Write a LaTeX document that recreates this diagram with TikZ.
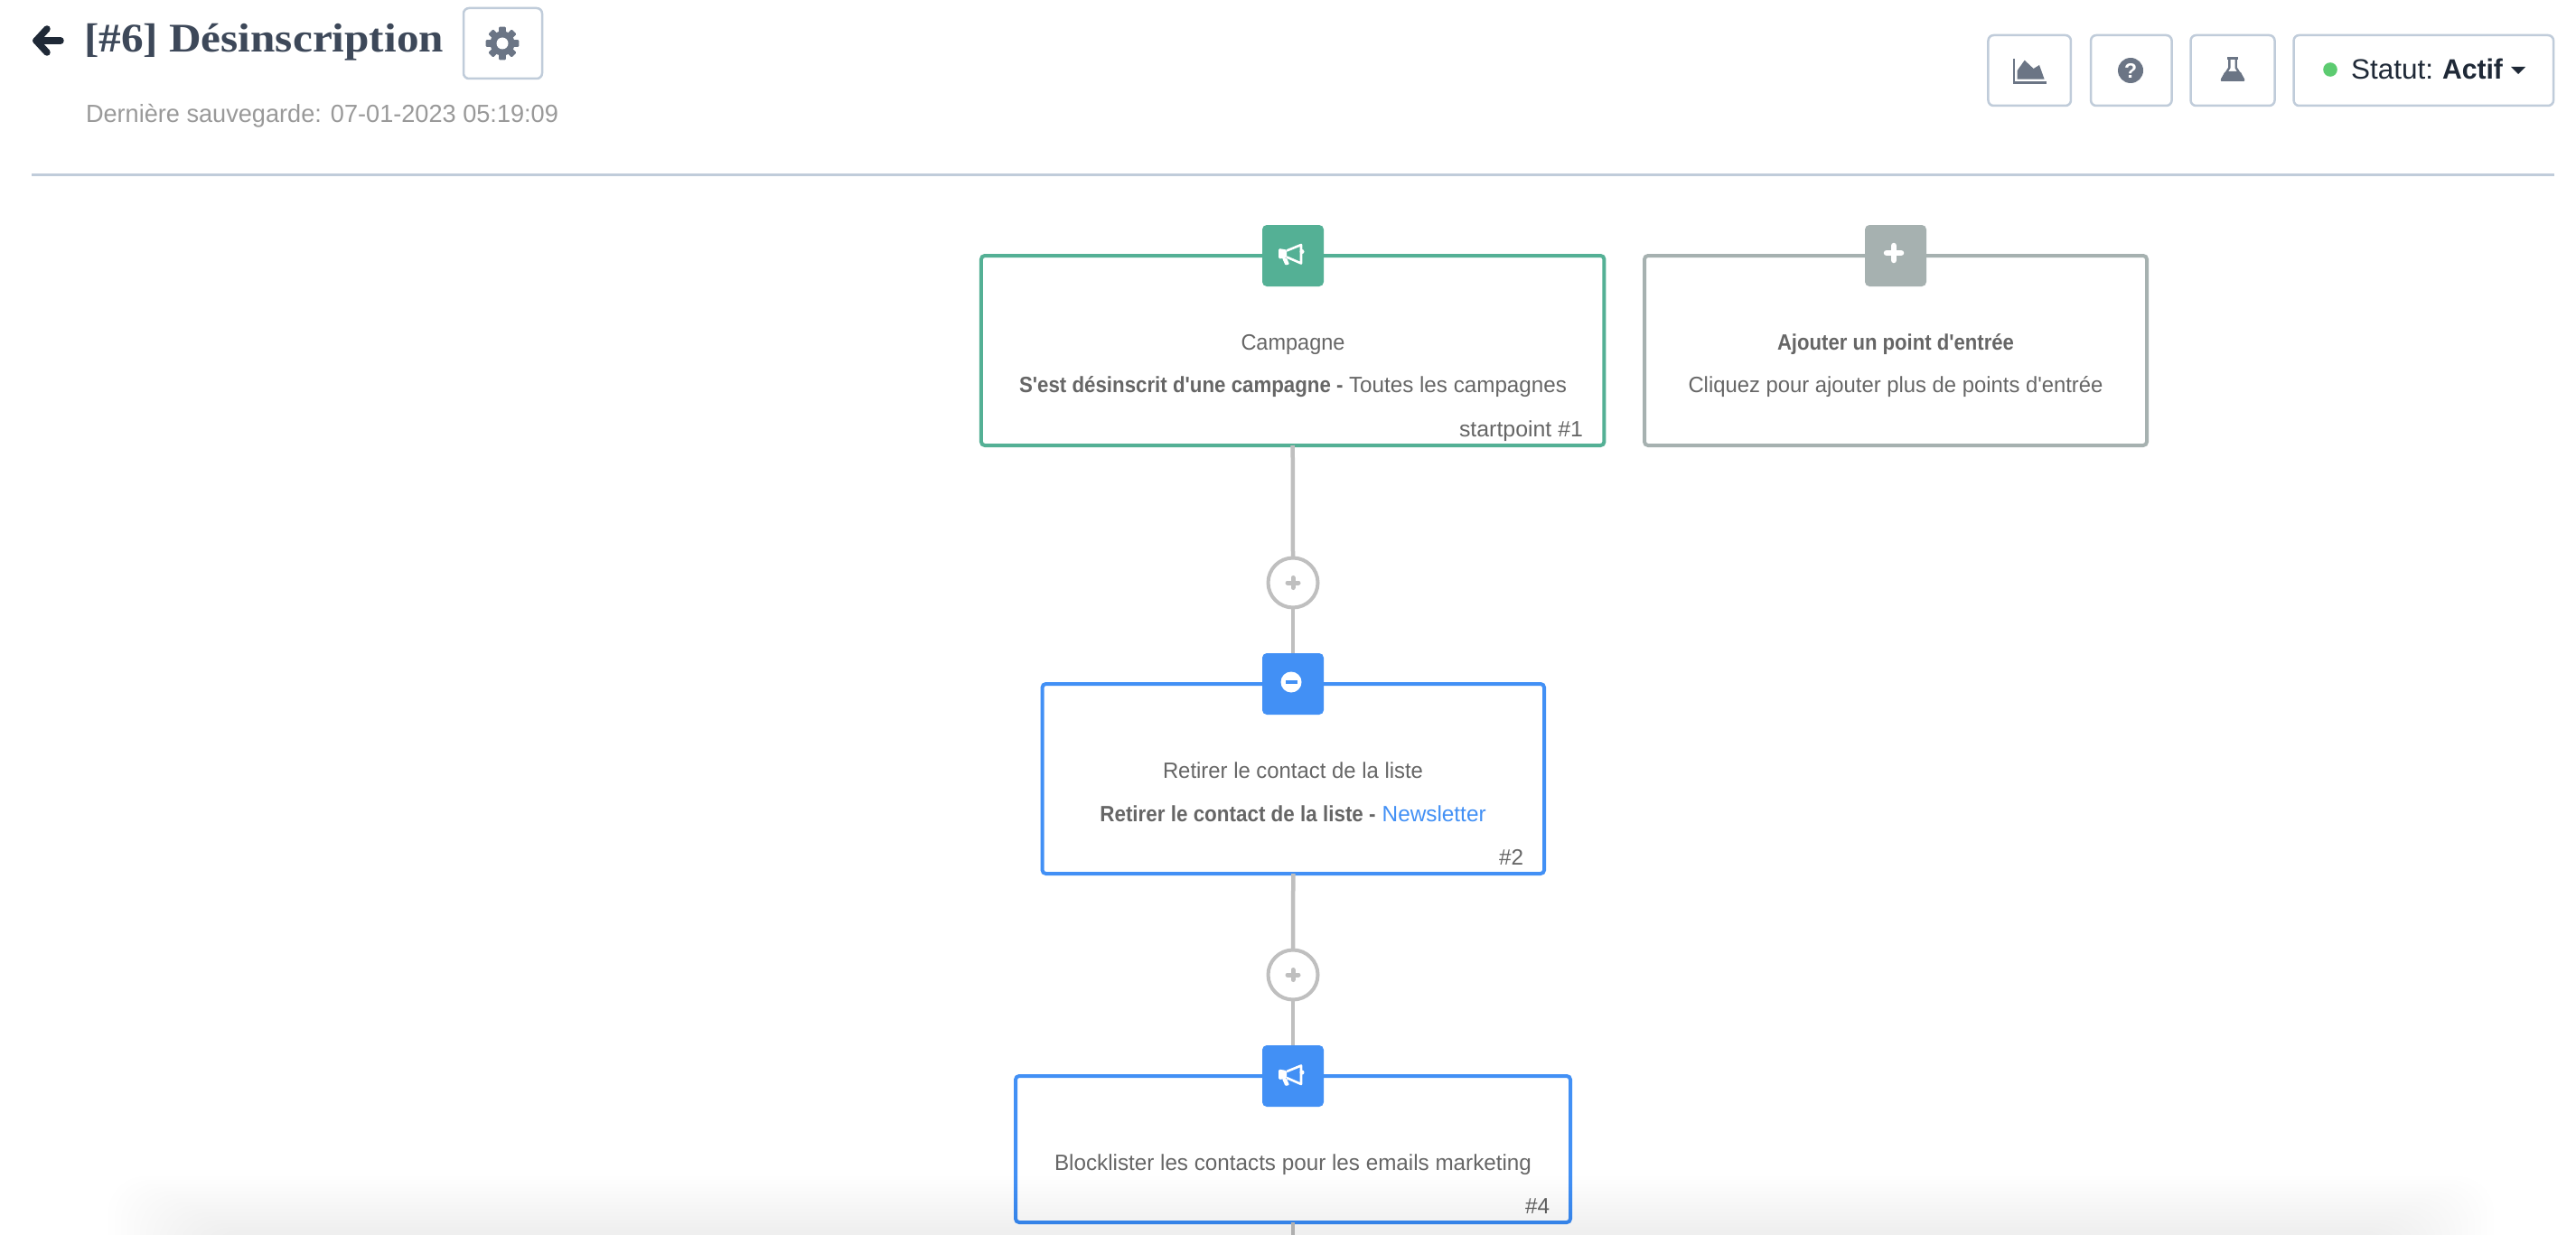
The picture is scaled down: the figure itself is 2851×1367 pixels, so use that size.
\documentclass[tikz,border=0pt]{standalone}
\usepackage{fontspec}
\usepackage{graphicx}
\newfontfamily\uifont{Liberation Sans}
\newfontfamily\headfont{Liberation Serif}
\usetikzlibrary{calc}
\definecolor{cgreen}{HTML}{54B095}
\definecolor{cgrey}{HTML}{A6B1B0}
\definecolor{cblue}{HTML}{4290F5}
\definecolor{ctext}{HTML}{666666}
\definecolor{cline}{HTML}{BFBFBF}
\definecolor{cbtn}{HTML}{C0CCDA}
\definecolor{cicon}{HTML}{6B7585}
\definecolor{cdark}{HTML}{1F2937}
\definecolor{ctitle}{HTML}{3D4859}
\definecolor{cdot}{HTML}{5CCB70}
\newcommand{\fw}[2]{\resizebox{#1pt}{\height}{#2}}
\tikzset{
  flowbox/.style={draw=#1,line width=4pt,fill=white,rounded corners=4pt,rectangle,inner sep=0pt,outer sep=0pt},
  iconbox/.style={fill=#1,rounded corners=5pt,rectangle,minimum width=68pt,minimum height=68pt,inner sep=0pt,outer sep=0pt},
  addnode/.style={circle,draw=cline,line width=4pt,fill=white,minimum size=55pt,inner sep=0pt,outer sep=0pt},
  btn/.style={draw=cbtn,line width=2.5pt,fill=white,rounded corners=6pt,rectangle,inner sep=0pt,outer sep=0pt},
  conn/.style={draw=cline,line width=4.5pt},
  txt/.style={inner sep=0pt,outer sep=0pt,text=ctext,font=\uifont\fontsize{24.5}{28}\selectfont},
}
\newcommand{\megaphone}[3]{%
  \begin{scope}[shift={(#1,#2)}]
    \fill[white,rounded corners=1.5pt] (-14,-6.5) -- (-5,-5) -- (-5,4) -- (-14,5) -- cycle;
    \fill[white,rounded corners=1pt] (-10,4) -- (-5,4) -- (-2,11) -- (-6.5,12) -- cycle;
    \draw[white,line width=2.6pt,line join=round] (-5,-4) -- (11,-10.5) -- (11,10) -- (-5,3);
    \fill[white] (12,-3) circle (2.5);
  \end{scope}}
\newcommand{\smallplus}[6]{%
  \draw[#3,line width=#6pt,line cap=round] ($(#1,#2)+(-#4,0)$) -- ($(#1,#2)+(#4,0)$);
  \draw[#3,line width=#6pt,line cap=round] ($(#1,#2)+(0,-#5)$) -- ($(#1,#2)+(0,#5)$);}
\begin{document}
\begin{tikzpicture}[x=1pt,y=-1pt]
\useasboundingbox[fill=white] (0,0) rectangle (2851,1367);

% header
\draw[cdark,line width=7.5pt,line cap=round,line join=round] (40,45) -- (52,32);
\draw[cdark,line width=7.5pt,line cap=round,line join=round] (40,45) -- (52,58);
\draw[cdark,line width=7.5pt,line cap=round] (40,45) -- (67,45);
\node[txt,anchor=base west,text=ctitle,font=\headfont\bfseries\fontsize{45}{50}\selectfont] (title) at (93,58) {\fw{398}{[\#6] Désinscription}};
\node[txt,anchor=base west,text=black!40,font=\uifont\fontsize{27.5}{32}\selectfont] (saved) at (95,136) {\fw{523}{Dernière sauvegarde: 07-01-2023 05:19:09}};
\node[btn,minimum width=87pt,minimum height=78pt] (gearbtn) at (556.5,48) {};
\begin{scope}[shift={(556,48)}]
  \fill[cicon] (0,0) circle (13.5);
  \foreach \a in {0,45,...,315}{\fill[cicon,rotate=\a,rounded corners=1pt] (-3.8,-18.3) rectangle (3.8,-9);}
  \fill[white] (0,0) circle (6.5);
\end{scope}
\draw[cbtn,line width=2.5pt] (35,193.5) -- (2827,193.5);

\node[btn,minimum width=91.5pt,minimum height=78pt] (chartbtn) at (2246.2,78) {};
\node[btn,minimum width=89.5pt,minimum height=78pt] (helpbtn) at (2358.8,78) {};
\node[btn,minimum width=93pt,minimum height=78pt] (labbtn) at (2471,78) {};
\node[btn,minimum width=287.5pt,minimum height=78pt] (statusbtn) at (2682.3,78) {};
\draw[cicon,line width=2.5pt] (2229,65) -- (2229,91.5) -- (2265,91.5);
\fill[cicon] (2232.7,87.7) -- (2232.7,78) -- (2240.7,66.7) -- (2250.6,76) -- (2257,72) -- (2262.6,87.7) -- cycle;
\fill[cicon] (2358,78) circle (14);
\node[inner sep=0pt,text=white,font=\uifont\bfseries\fontsize{23}{26}\selectfont] (helpmark) at (2358,78) {?};
% flask
\draw[cicon,line width=2.4pt,line join=round] (2465,64.5) -- (2477,64.5);
\draw[cicon,line width=2.4pt,line join=round] (2467.3,65) -- (2467.3,75) -- (2459,88);
\draw[cicon,line width=2.4pt,line join=round] (2474.7,65) -- (2474.7,75) -- (2483,88);
\fill[cicon,rounded corners=1.5pt] (2462.5,79) -- (2479.5,79) -- (2485,90) -- (2457,90) -- cycle;
% status
\fill[cdot] (2579,77) circle (7.8);
\node[txt,anchor=base west,text=cdark,font=\uifont\fontsize{31}{36}\selectfont] (status) at (2602,88) {\fw{91}{Statut:}\hspace{10pt}\fw{67}{\bfseries Actif}};
\fill[cdark] (2779,74) -- (2795,74) -- (2787,82) -- cycle;

% boxes
\node[flowbox=cgreen,minimum width=689.5pt,minimum height=210pt] (start) at (1430.7,388) {};
\node[iconbox=cgreen] (starticon) at (1431,283) {};
\megaphone{1429}{281.5}{}
\node[txt,anchor=base] (startA) at (1431,387) {\fw{115}{Campagne}};
\node[txt,anchor=base] (startB) at (1431,434) {\fw{358.6}{\textbf{S'est désinscrit d'une campagne -}}\hspace{6.4pt}\fw{241}{Toutes les campagnes}};
\node[txt,anchor=base east] (startC) at (1752,483) {\fw{137}{startpoint \#1}};

\node[flowbox=cgrey,minimum width=556pt,minimum height=210pt] (entry) at (2098,388) {};
\node[iconbox=cgrey] (entryicon) at (2098,283) {};
\smallplus{2096}{280}{white}{8}{8}{6.5}
\node[txt,anchor=base] (entryA) at (2098,387) {\fw{262}{\textbf{Ajouter un point d'entrée}}};
\node[txt,anchor=base] (entryB) at (2098,434) {\fw{459}{Cliquez pour ajouter plus de points d'entrée}};

\node[addnode] (add1) at (1431,645) {};
\smallplus{1431}{645}{cline}{6}{5.5}{5}

\node[flowbox=cblue,minimum width=555.5pt,minimum height=210pt] (remove) at (1431.3,862) {};
\node[iconbox=cblue] (removeicon) at (1431,757) {};
\fill[white] (1429,755) circle (11.5);
\fill[cblue] (1422.5,753) rectangle (1435.5,757);
\node[txt,anchor=base] (removeA) at (1431,861) {\fw{288}{Retirer le contact de la liste}};
\node[txt,anchor=base] (removeB) at (1431,909) {\fw{305.3}{\textbf{Retirer le contact de la liste -}}\hspace{7pt}\fw{115}{\textcolor{cblue}{Newsletter}}};
\node[txt,anchor=base east] (removeC) at (1686,957) {\fw{27}{\#2}};

\node[addnode] (add2) at (1431,1079) {};
\smallplus{1431}{1079}{cline}{6}{5.5}{5}

\node[flowbox=cblue,minimum width=614pt,minimum height=162pt] (block) at (1431,1272) {};
\node[iconbox=cblue] (blockicon) at (1431,1191) {};
\megaphone{1429}{1190}{}
\node[txt,anchor=base] (blockA) at (1431,1295) {\fw{528}{Blocklister les contacts pour les emails marketing}};
\node[txt,anchor=base east] (blockC) at (1715,1343) {\fw{27}{\#4}};

\coordinate (bottomend) at (1431,1367);

% connectors
\draw[conn] (start.south) -- (add1.north);
\draw[conn] (add1.south) -- (removeicon.north);
\draw[conn] (remove.south) -- (add2.north);
\draw[conn] (add2.south) -- (blockicon.north);
\draw[conn] (block.south) -- (bottomend);

% bottom shadow
\foreach \i in {0,...,15}{
  \fill[black,opacity=0.0027,rounded corners=40pt]
    ({120+7*\i},{1302+4*\i}) rectangle ({2760-7*\i},1430);
}
\end{tikzpicture}
\end{document}
